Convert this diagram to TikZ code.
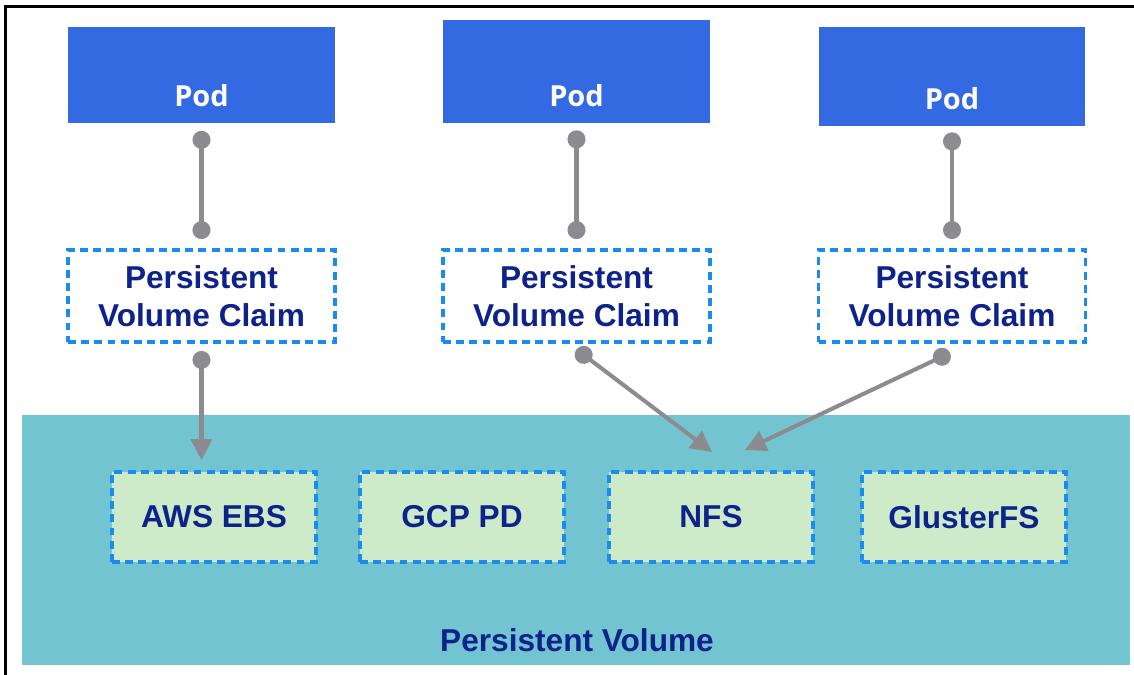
\documentclass[tikz,border=0pt]{standalone}
\usepackage{fontspec}
\setmainfont{Liberation Sans}
\newfontfamily\podfont{Open Sans}
\usetikzlibrary{arrows.meta}

\definecolor{podblue}{HTML}{336AE2}
\definecolor{pvteal}{HTML}{72C4D0}
\definecolor{diskgreen}{HTML}{CDEBC8}
\definecolor{labelnavy}{HTML}{0E228C}
\definecolor{dashblue}{HTML}{1A8CF0}
\definecolor{linkgray}{HTML}{8C8C90}

\begin{document}
\begin{tikzpicture}[x=0.02cm, y=-0.02cm, line cap=butt,
    pod/.style={fill=podblue, minimum width=5.34cm, minimum height=1.94cm, inner sep=0pt,
      label={[font=\podfont\bfseries\fontsize{16.5}{19}\selectfont, text=white, anchor=center, yshift=0.56cm]south:Pod}},
    claim/.style={draw=dashblue, fill=white, line width=2.2pt, dash pattern=on 4.5pt off 3pt,
      minimum width=5.34cm, minimum height=1.84cm, inner sep=0pt, align=center,
      font=\bfseries\fontsize{18}{21.6}\selectfont, text=labelnavy},
    disk/.style={claim, fill=diskgreen, minimum width=4.08cm, minimum height=1.8cm},
    link/.style={draw=linkgray, line width=2.3pt},
    dots/.style={link, {Circle[length=0.36cm]}-{Circle[length=0.36cm]}},
    feed/.style={link, {Circle[length=0.36cm]}-{Triangle[length=0.42cm, width=0.42cm]}}]
  % frame: fixes the aspect ratio
  \useasboundingbox (0,0) rectangle (1134,675);
  \draw[line width=1.7pt] (5.5,675) -- (5.5,6.5) -- (1134,6.5);

  % Persistent volume area
  \node[fill=pvteal, minimum width=22.16cm, minimum height=5cm, inner sep=0pt] (pv) at (576,540) {};
  \node[font=\bfseries\fontsize{18}{21.6}\selectfont, text=labelnavy] (pvname) at (577,640) {Persistent Volume};

  % Pods
  \node[pod] (pod1) at (201.5,75) {};
  \node[pod, minimum height=2.06cm] (pod2) at (576.5,71.5) {};
  \node[pod, minimum height=1.98cm] (pod3) at (952,76.5) {};

  % Claims
  \node[claim] (pvc1) at (201.5,296) {Persistent\\Volume Claim};
  \node[claim] (pvc2) at (576.5,296) {Persistent\\Volume Claim};
  \node[claim] (pvc3) at (952,296) {Persistent\\Volume Claim};

  % Storage backends
  \node[disk] (aws) at (214,517) {AWS EBS};
  \node[disk] (gcp) at (462,517) {GCP PD};
  \node[disk] (nfs) at (711,517) {NFS};
  \node[disk] (gluster) at (964,517) {GlusterFS};

  % Pod to claim
  \draw[dots, shorten <=0.14cm, shorten >=0.18cm] (pod1.south) -- (pvc1.north);
  \draw[dots, shorten <=0.14cm, shorten >=0.18cm] (pod2.south) -- (pvc2.north);
  \draw[dots, shorten <=0.14cm, shorten >=0.18cm] ([yshift=0.02cm]pod3.south) -- (pvc3.north);

  % Claim to volume
  \coordinate (nfsleft) at (712,452);
  \coordinate (nfsright) at (745,450);
  \draw[feed, shorten <=0.14cm, shorten >=0.2cm] (pvc1.south) -- (pvc1.south |- aws.north);
  \draw[feed] ([yshift=-0.11cm]pvc2.south) -- (nfsleft);
  \draw[feed] ([xshift=-0.04cm, yshift=-0.18cm]pvc3.south) -- (nfsright);
\end{tikzpicture}
\end{document}
